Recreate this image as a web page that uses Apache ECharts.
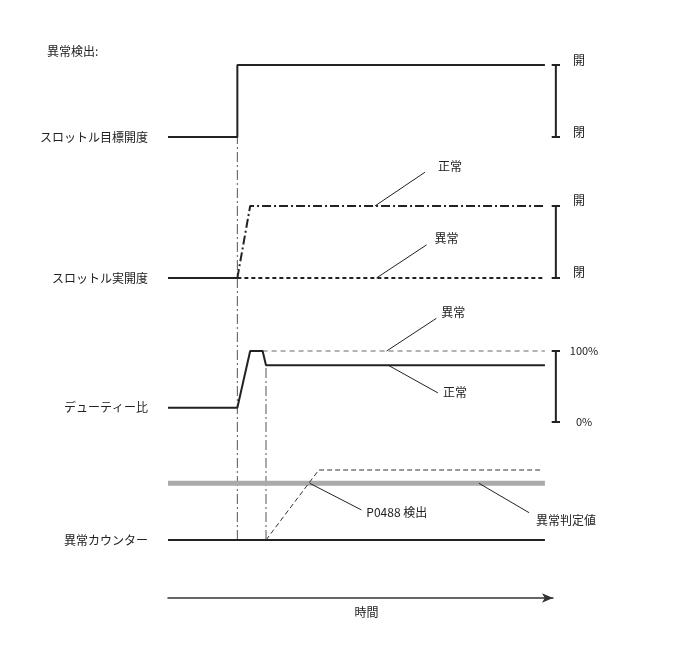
<!DOCTYPE html>
<html>
<head>
<meta charset="utf-8">
<script src="https://cdn.jsdelivr.net/npm/echarts@6/dist/echarts.min.js"></script>
<style>
  html, body { margin: 0; padding: 0; background: #fff; }
  #chart { width: 688px; height: 658px; }
</style>
</head>
<body>
<div id="chart"></div>
<script>
// time axis: 0 = start of trace, 100 = end of trace
const tEvent = 18.4      // anomaly occurs, target opens
const tRise = 21.8       // actual opening / duty reach top
const tPeakEnd = 25.1    // duty starts to fall back
const tDetect = 26.0     // counter starts
const tCountTop = 40.0   // counter passes the threshold
const tEnd = 100
const xMax = 104.0
const arrowMax = 102.1

const signalNames = ['スロットル目標開度', 'スロットル実開度', 'デューティー比', '異常カウンター']
const openLabels = ['閉', '開']
const dutyLabels = ['0%', '100%']

const targetOpening = [[0, 0], [tEvent, 0], [tEvent, 1], [tEnd, 1]]
const actualBefore = [[0, 0], [tEvent, 0]]
const actualNormal = [[tEvent, 0], [tRise, 1], [tEnd, 1]]
const actualAbnormal = [[tEvent, 0], [tEnd, 0]]
const dutyNormal = [[0, 20], [tEvent, 20], [tRise, 100], [tPeakEnd, 100], [tDetect, 80], [tEnd, 80]]
const dutyAbnormal = [[tPeakEnd, 100], [tEnd, 100]]
const counterBase = [[0, 0], [tEnd, 0]]
const counterThreshold = [[0, 81], [tEnd, 81]]
const counterAbnormal = [[tDetect, 0], [tCountTop, 100], [99.2, 100]]

// leader lines: [from, to]
const leaderActualNormal = [[54.9, 1], [68.2, 1.47]]
const leaderActualAbnormal = [[55.3, 0], [68.6, 0.46]]
const leaderDutyAbnormal = [[58.0, 100], [71.2, 146]]
const leaderDutyNormal = [[58.4, 80], [71.6, 41]]
const leaderDetect = [[37.6, 81], [51.3, 43]]
const leaderThreshold = [[82.5, 81], [95.8, 39]]

const bracketT = 102.9
const capHalf = 1.1

const font = '"Noto Sans CJK JP", "Noto Sans", sans-serif'
const ink = '#222'

const bracket = (lo, hi) => [
    [bracketT - capHalf, hi], [bracketT + capHalf, hi], [bracketT, hi],
    [bracketT, lo], [bracketT - capHalf, lo], [bracketT + capHalf, lo]
]

const line = (grid, yIdx, data, style, extra) => Object.assign({
    type: 'line',
    xAxisIndex: grid,
    yAxisIndex: yIdx,
    data,
    symbol: 'none',
    clip: false,
    silent: true,
    lineStyle: Object.assign({ color: ink, width: 2 }, style)
}, extra || {})

const leader = (grid, data, text, distance, offset) => line(grid, grid, data, { width: 1 }, {
    endLabel: {
        show: true,
        formatter: text,
        distance,
        offset,
        color: ink,
        fontSize: 12,
        fontFamily: font
    }
})

const grids = [
    { top: 65, height: 72 },
    { top: 206, height: 72 },
    { top: 351, height: 71 },
    { top: 470, height: 70 },
    { top: 137, height: 403 },
    { top: 365, height: 175 }
].map(g => Object.assign({ left: 168, width: 392 }, g))
// time arrow
grids.push({ left: 168, width: 385, top: 590, height: 8 })

const xAxes = grids.map((g, i) => {
    if (i !== 6) return { type: 'value', gridIndex: i, min: 0, max: xMax, show: false }
    return {
        type: 'value', gridIndex: i, min: 0, max: arrowMax,
        axisLine: {
            show: true,
            symbol: ['none', 'arrow'],
            symbolSize: [7, 11],
            lineStyle: { color: '#333', width: 1.5 }
        },
        axisTick: { show: false },
        axisLabel: { show: false },
        splitLine: { show: false },
        name: '時間',
        nameLocation: 'middle',
        nameGap: 8,
        nameTextStyle: { color: ink, fontSize: 12, fontFamily: font, padding: [0, 0, 0, 12] }
    }
})

const leftAxis = (i, max, interval, at) => ({
    type: 'value', gridIndex: i, min: 0, max, interval,
    axisLine: { show: false },
    axisTick: { show: false },
    splitLine: { show: false },
    axisLabel: {
        margin: 20,
        color: ink,
        fontSize: 12,
        fontFamily: font,
        formatter: v => v === at ? signalNames[i] : ''
    }
})

const rightAxis = (i, max, labels, margin, size, vAlign, lineHeight) => ({
    type: 'value', gridIndex: i, min: 0, max, interval: max,
    position: 'right',
    offset: -4,
    axisLine: { show: false },
    axisTick: { show: false },
    splitLine: { show: false },
    axisLabel: {
        margin,
        align: 'center',
        verticalAlign: vAlign,
        lineHeight,
        color: ink,
        fontSize: size,
        fontFamily: font,
        formatter: v => v === 0 ? labels[0] : labels[1]
    }
})

const hiddenAxis = i => ({ type: 'value', gridIndex: i, min: 0, max: 1, show: false })

const yAxes = [
    leftAxis(0, 1, 1, 0),
    leftAxis(1, 1, 1, 0),
    leftAxis(2, 100, 20, 20),
    leftAxis(3, 100, 20, 0),
    hiddenAxis(4),
    hiddenAxis(5),
    hiddenAxis(6),
    rightAxis(0, 1, openLabels, 23, 12, 'bottom', 10),
    rightAxis(1, 1, openLabels, 23, 12, 'bottom', 11),
    rightAxis(2, 100, dutyLabels, 28, 11, 'middle', 14)
]

const dashDot = [9, 3, 2, 3]
const markerStyle = { width: 1, color: '#555', type: [10, 3, 2, 3] }

const series = [
    // vertical event markers
    line(4, 4, [[tEvent, 0], [tEvent, 1]], markerStyle),
    line(5, 5, [[tDetect, 0], [tDetect, 1]], markerStyle),

    // target opening
    line(0, 0, targetOpening, {}),
    line(0, 7, bracket(0, 1), {}),

    // actual opening
    line(1, 1, actualBefore, {}),
    line(1, 1, actualNormal, { type: dashDot }),
    line(1, 1, actualAbnormal, { type: [4, 3] }),
    line(1, 8, bracket(0, 1), {}),
    leader(1, leaderActualNormal, '正常', 13, [0, -6]),
    leader(1, leaderActualAbnormal, '異常', 8, [0, -6]),

    // duty
    line(2, 2, dutyAbnormal, { width: 1, color: '#666', type: [5, 4] }),
    line(2, 2, dutyNormal, {}),
    line(2, 9, bracket(0, 100), {}),
    leader(2, leaderDutyAbnormal, '異常', 5, [0, -6]),
    leader(2, leaderDutyNormal, '正常', 5, [0, 0]),

    // counter
    line(3, 3, counterThreshold, { width: 5, color: '#aaa' }),
    line(3, 3, counterBase, {}),
    line(3, 3, counterAbnormal, { width: 1, color: '#333', type: [5, 3] }),
    leader(3, leaderDetect, 'P0488 検出', 5, [0, 3]),
    leader(3, leaderThreshold, '異常判定値', 7, [0, 8])
]

const chart = echarts.init(document.getElementById('chart'))
chart.setOption({
    backgroundColor: '#fff',
    animation: false,
    grid: grids,
    xAxis: xAxes,
    yAxis: yAxes,
    series,
    graphic: [{
        type: 'text',
        left: 47,
        top: 45,
        style: { text: '異常検出:', fill: ink, font: '12px ' + font }
    }]
})
</script>
</body>
</html>
